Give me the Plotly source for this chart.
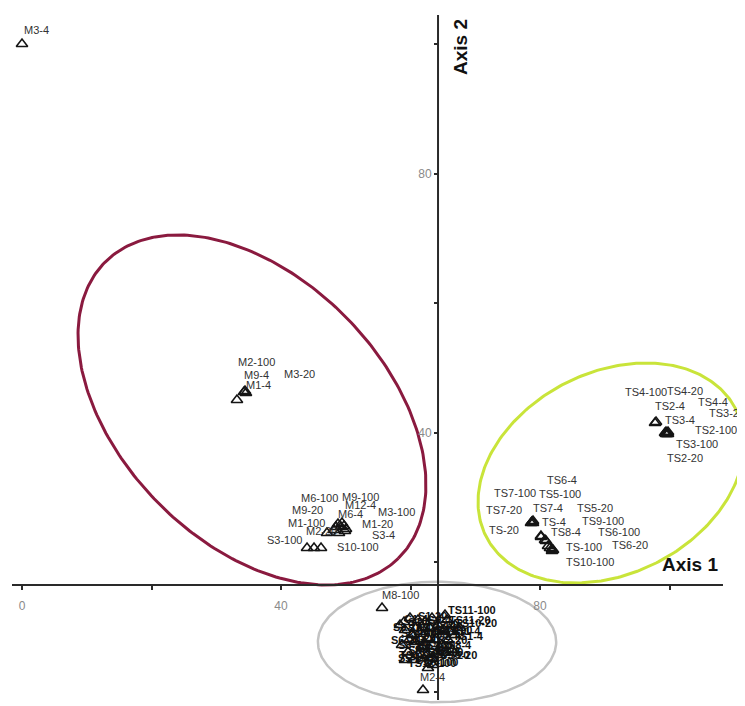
import numpy as np
import plotly.graph_objects as go

# ---------------- data: sample scores on the two ordination axes ----------------
M_NAMES = ["M3-4", "M2-100", "M9-4", "M3-20", "M1-4", "M6-100", "M9-100", "M12-4",
           "M9-20", "M6-4", "M3-100", "M1-100", "M1-20", "M2-20", "S3-4", "S3-100",
           "S10-4", "S10-100"]
M_AXIS1 = [0.00, 34.29, 34.44, 34.59, 33.20, 48.80, 49.42, 49.73,
           48.49, 49.27, 50.04, 48.19, 49.88, 47.10, 48.96, 44.02,
           45.10, 46.18]
M_AXIS2 = [100.00, 46.25, 46.41, 46.10, 45.02, 25.87, 26.02, 25.56,
           25.41, 25.41, 25.10, 24.94, 24.79, 24.48, 24.48, 22.16,
           22.16, 22.16]

TS_NAMES = ["TS4-100", "TS3-4", "TS4-20", "TS2-4", "TS4-4", "TS3-20", "TS2-100",
            "TS3-100", "TS2-20", "TS6-4", "TS7-100", "TS5-100", "TS7-20", "TS7-4",
            "TS5-20", "TS9-100", "TS-20", "TS-4", "TS8-4", "TS6-100", "TS-100",
            "TS6-20", "TS10-100"]
TS_AXIS1 = [97.76, 97.92, 99.61, 99.77, 99.46, 99.77, 99.61,
            99.46, 99.31, 78.76, 78.76, 78.92, 78.61, 78.92,
            80.77, 80.93, 80.15, 80.15, 81.24, 81.54, 81.85,
            82.01, 81.85]
TS_AXIS2 = [41.47, 41.62, 39.92, 40.08, 39.77, 39.77, 39.77,
            40.08, 39.92, 26.18, 26.18, 26.33, 26.02, 26.02,
            23.40, 23.24, 23.86, 24.02, 22.47, 22.16, 22.01,
            21.85, 21.70]

C_NAMES = ["M8-100", "TS11-100", "TS10-20", "TS1-4", "M2-4", "S1-4", "S1-20", "S1-100",
           "S2-4", "S2-20", "S2-100", "S4-4", "S4-20", "S4-100", "S5-4", "S5-20",
           "S5-100", "S6-4", "S6-20", "S6-100", "S7-4", "S7-20", "S7-100", "S8-4",
           "S8-20", "S8-100", "S9-4", "S9-20", "S9-100",
           "C1-4", "C1-20", "C1-100", "C2-4", "C2-20", "C2-100", "C3-4", "C3-20",
           "C3-100", "TS11-4", "TS11-20", "TS12-4", "TS12-100"]
C_AXIS1 = [55.60, 65.33, 65.64, 66.10, 61.93, 59.92, 61.16, 62.24,
           63.32, 64.25, 59.15, 60.23, 61.47, 62.70, 63.78, 64.86,
           58.69, 59.61, 60.39, 62.55, 63.47, 64.56, 65.79, 66.87,
           60.70, 58.38, 64.09, 66.41, 61.78,
           59.00, 60.85, 63.01, 65.17, 59.77, 62.24, 64.56, 61.16,
           63.32, 66.87, 67.64, 59.15, 62.70]
C_AXIS2 = [12.90, 11.81, 11.04, 9.19, 0.23, 11.35, 11.04, 10.73,
           11.35, 10.27, 9.50, 8.73, 9.19, 8.26, 7.95, 7.18,
           7.18, 6.10, 4.86, 5.64, 4.09, 5.64, 7.95, 10.27,
           7.64, 10.27, 9.19, 6.41, 6.87,
           10.73, 9.81, 9.81, 9.50, 7.95, 7.49, 6.72, 5.64,
           5.17, 8.73, 9.81, 4.86, 3.63]

X_TICKS = [0, 20, 40, 60, 80, 100]
X_TICK_TEXT = ["0", "", "40", "", "80", ""]
Y_TICKS = [0, 20, 40, 60, 80, 100]
Y_TICK_TEXT = ["", "", "40", "", "80", ""]

# ---------------- layout / style (kept apart from the data) ----------------
# label offsets in pixels (dx right, dy down); None = label hidden
M_LABEL_OFF = [(14, -14), (12, -30), (11, -16), (54, -19), (22, -15), (-18, -26), (19, -26),
               (16, -21), (-28, -17), (9, -13), (50, -17), (-28, -7), (33, -7), (-5, -2),
               (44, 2), (-23, -8), None, (37, -1)]
TS_LABEL_OFF = [(-9, -31), (24, -2), (18, -42), (2, -26), (47, -32), (59, -21), (49, -4),
                (31, 12), (20, 25), (30, -42), (-17, -29), (27, -27), (-27, -13), (15, -15),
                (50, -32), (57, -20), (-37, -7), (13, -14), (18, -14), (69, -16), (32, -2),
                (77, -5), (38, 11)]
C_LABEL_OFF = [(18, -13), (27, -5), (29, 3), (18, 4), (9, -13), (10, 4), (14, -4), (15, 6),
               (13, 7), (14, 15), (13, 3), (13, 5), (20, 13), (18, 14), (-15, 10), (13, 10),
               (13, 13), (20, 8), (-8, -20), (13, 7), (-13, -37), (-8, -7), (7, -10), (5, 20),
               (-3, 3), (10, 2), (3, -12), (10, 5), (8, -13),
               (12, -3), (15, 2), (14, -2), (6, 6), (12, -2), (10, 2), (8, 3), (12, -2),
               (8, -6), (8, -4), (10, -8), (12, -5), (4, -5)]
# labels drawn in the light style inside the dense lower cluster
C_LIGHT_LABELS = {"M8-100", "M2-4"}

# group ellipses: center x, center y, semi-major, semi-minor, angle (deg), colour, width
ELLIPSES = [
    (35.52, 43.48, 32.19, 20.40, -45.4, "#8a1a3f", 3),
    (90.97, 33.75, 21.65, 15.55, 27.0, "#c9e43a", 3),
    (64.10, 7.64, 18.4, 9.3, 0.0, "#c4c4c4", 2.5),
]

# visible plotting window (data units) and the two crossing axis lines
X_RANGE = [-2.162, 111.66]
Y_RANGE = [-2.24, 105.56]
AXIS1_SPAN = [-1.544, 108.26]   # extent of the horizontal axis line
AXIS2_SPAN = [-1.313, 104.48]   # extent of the vertical axis line
AXIS1_CROSS_Y = 16.45
AXIS2_CROSS_X = 64.25

FONT = "Arial, Liberation Sans, sans-serif"
LINE_COL = "#2a2a2a"

fig = go.Figure()

t = np.linspace(0, 2 * np.pi, 300)
for cx, cy, a, b, ang, col, w in ELLIPSES:
    th = np.deg2rad(ang)
    ex = cx + a * np.cos(t) * np.cos(th) - b * np.sin(t) * np.sin(th)
    ey = cy + a * np.cos(t) * np.sin(th) + b * np.sin(t) * np.cos(th)
    fig.add_trace(go.Scatter(x=ex, y=ey, mode="lines", line=dict(color=col, width=w),
                             hoverinfo="skip", showlegend=False))

# axis lines crossing inside the plot
fig.add_trace(go.Scatter(x=AXIS1_SPAN, y=[AXIS1_CROSS_Y] * 2, mode="lines",
                         line=dict(color=LINE_COL, width=2), hoverinfo="skip",
                         showlegend=False))
fig.add_trace(go.Scatter(x=[AXIS2_CROSS_X] * 2, y=AXIS2_SPAN, mode="lines",
                         line=dict(color=LINE_COL, width=2), hoverinfo="skip",
                         showlegend=False))

annotations = []
for grp, names, xs, ys, offs in [("M", M_NAMES, M_AXIS1, M_AXIS2, M_LABEL_OFF),
                                 ("TS", TS_NAMES, TS_AXIS1, TS_AXIS2, TS_LABEL_OFF),
                                 ("C", C_NAMES, C_AXIS1, C_AXIS2, C_LABEL_OFF)]:
    fig.add_trace(go.Scatter(
        x=xs, y=ys, mode="markers", text=names, hoverinfo="text",
        marker=dict(symbol="triangle-up-open", size=10, color="#151515",
                    line=dict(width=1.6, color="#151515")),
        cliponaxis=False, showlegend=False))
    for n, x, y, off in zip(names, xs, ys, offs):
        if off is None:
            continue
        dense = grp == "C" and n not in C_LIGHT_LABELS
        annotations.append(dict(x=x, y=y, xref="x", yref="y",
                                text=f"<b>{n}</b>" if dense else n, showarrow=False,
                                xshift=off[0], yshift=-off[1], xanchor="center",
                                yanchor="middle",
                                font=dict(family=FONT, size=11,
                                          color="#111111" if dense else "#333333")))

annotations.append(dict(x=103.17, y=19.54, xref="x", yref="y", text="<b>Axis 1</b>",
                        showarrow=False, xanchor="center", yanchor="middle",
                        font=dict(family=FONT, size=19, color="#111")))
annotations.append(dict(x=67.80, y=99.54, xref="x", yref="y", text="<b>Axis 2</b>",
                        showarrow=False, textangle=-90, xanchor="center", yanchor="middle",
                        font=dict(family=FONT, size=19, color="#111")))

pos_x_axis = (AXIS1_CROSS_Y - Y_RANGE[0]) / (Y_RANGE[1] - Y_RANGE[0])
pos_y_axis = (AXIS2_CROSS_X - X_RANGE[0]) / (X_RANGE[1] - X_RANGE[0])

axis_common = dict(showline=False, ticks="outside", ticklen=4, tickwidth=2,
                   tickcolor=LINE_COL, showgrid=False, zeroline=False,
                   tickfont=dict(family=FONT, size=12, color="#8a8a8a"))

fig.update_layout(
    width=737, height=698,
    margin=dict(l=0, r=0, t=0, b=0, pad=0, autoexpand=False),
    paper_bgcolor="white", plot_bgcolor="white",
    xaxis=dict(range=X_RANGE, anchor="free", position=pos_x_axis,
               tickvals=X_TICKS, ticktext=X_TICK_TEXT, ticklabelstandoff=6,
               **axis_common),
    yaxis=dict(range=Y_RANGE, anchor="free", position=pos_y_axis,
               tickvals=Y_TICKS, ticktext=Y_TICK_TEXT, **axis_common),
    annotations=annotations,
    showlegend=False,
)

fig.write_html("out.html")
